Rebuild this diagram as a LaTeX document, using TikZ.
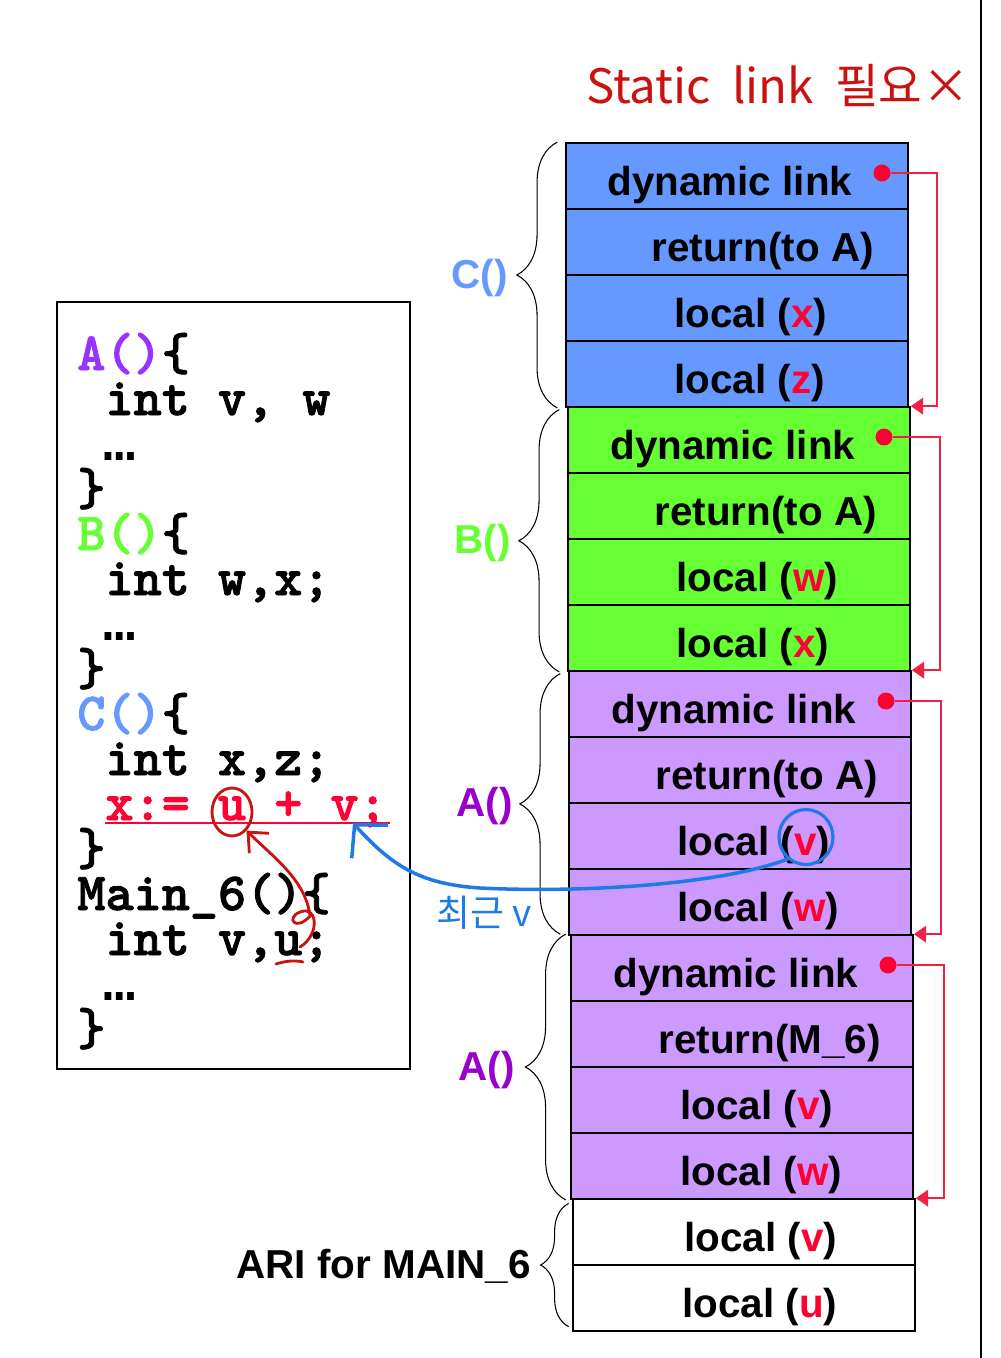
\documentclass[tikz,border=0pt]{standalone}
\usepackage{fontspec}
\setmainfont{Liberation Sans}
\newfontfamily\codefont[FakeBold=1.6]{lmmonolt10-bold.otf}
\newfontfamily\dotsfont{Liberation Mono}
\newfontfamily\krfont{Noto Sans CJK KR}
\usetikzlibrary{arrows.meta,decorations.pathreplacing,shapes.geometric}
\definecolor{cblue}{HTML}{6699FF}
\definecolor{cgreen}{HTML}{66FF33}
\definecolor{cpurple}{HTML}{CC99FF}
\definecolor{apurple}{HTML}{9900CC}
\definecolor{codeA}{HTML}{9933FF}
\definecolor{varred}{HTML}{FF0033}
\definecolor{linkred}{HTML}{EE2244}
\definecolor{penred}{HTML}{CC1111}
\definecolor{penblue}{HTML}{1E7BE6}
\newcommand{\ind}{\hphantom{x}}
\newcommand{\vr}[1]{{\color{varred}#1}}
\newcommand{\codedots}{\makebox[\fontcharwd\font`x][c]{\dotsfont\bfseries …}}

\begin{document}
\begin{tikzpicture}[x=0.02cm,y=-0.02cm,
    row/.style={draw,line width=1pt,minimum width=6.84cm,minimum height=1.32cm,inner sep=0},
    rowtext/.style={inner sep=0,anchor=west,yshift=-5pt,font=\fontsize{23}{27}\selectfont\bfseries},
    framelabel/.style={inner sep=0,anchor=east,font=\fontsize{23}{27}\selectfont\bfseries},
    codeline/.style={inner sep=0,anchor=base west,text height=19pt,text depth=5pt,font=\codefont\fontsize{30.5}{33}\selectfont},
    dot/.style={circle,fill=varred,inner sep=0,minimum size=0.34cm},
    dlink/.style={linkred,line width=0.8pt,-{Triangle[length=7pt,width=9.5pt]}},
    brace/.style={decorate,decoration={brace,amplitude=#1},line width=0.6pt},
    pen/.style={penred,line width=1.6pt,line cap=round}]
\useasboundingbox (0,0) rectangle (1000,1358);

%right edge
\draw[line width=1pt] (981,0) -- (981,1358);

%code
\draw[line width=0.8pt] (57,302) rectangle (410,1069);
\foreach \t [count=\i] in {{{\color{codeA}A()}\{},
    {\ind int v, w},
    {\ind\codedots},
    {\}},
    {{\color{cgreen}B()}\{},
    {\ind int w,x;},
    {\ind\codedots},
    {\}},
    {{\color{cblue}C()}\{},
    {\ind int x,z;},
    {\ind{\color{varred}x:= u + v;}},
    {\}},
    {Main\_6()\{},
    {\ind int v,u;},
    {\ind\codedots},
    {\}}}
  \node[codeline] (l\i) at (77,370+45*\i-45) {\t};
\draw[varred,line width=0.8pt] (105,823) -- (390,823);

%stack
\foreach \n/\k/\xl/\col/\ix/\t in {
    c1/0/566/cblue/42/dynamic link,
    c2/1/566/cblue/86/return(to A),
    c3/2/566/cblue/109/local (\vr{x}),
    c4/3/566/cblue/109/local (\vr{z}),
    b1/4/568/cgreen/43/dynamic link,
    b2/5/568/cgreen/87/return(to A),
    b3/6/568/cgreen/109/local (\vr{w}),
    b4/7/568/cgreen/109/local (\vr{x}),
    a1/8/569/cpurple/43/dynamic link,
    a2/9/569/cpurple/87/return(to A),
    a3/10/569/cpurple/109/local (\vr{v}),
    a4/11/569/cpurple/109/local (\vr{w}),
    m1/12/571/cpurple/43/dynamic link,
    m2/13/571/cpurple/88/return(M\_6),
    m3/14/571/cpurple/110/local (\vr{v}),
    m4/15/571/cpurple/110/local (\vr{w}),
    n1/16/573/white/112/local (\vr{v}),
    n2/17/573/white/110/local (\vr{u})}
{
  \node[row,fill=\col] (\n) at (\xl+171,176+66*\k) {};
  \node[rowtext] (\n-txt) at ([xshift=\ix*0.02cm]\n.west) {\t};
}

%dynamic links
\node[dot] (d1) at (882,173) {};
\node[dot] (d2) at (884,437) {};
\node[dot] (d3) at (886,701) {};
\node[dot] (d4) at (888,965) {};
\draw[dlink] (d1) -- ++(55,0) |- (b1.north east);
\draw[dlink] (d2) -- ++(56,0) |- (a1.north east);
\draw[dlink] (d3) -- ++(55,0) |- (m1.north east);
\draw[dlink] (d4) -- ++(56,0) |- (n1.north east);

%braces
\draw[brace=23pt] ([xshift=-4.5pt]c4.south west) -- ([xshift=-4.5pt]c1.north west);
\draw[brace=23pt] ([xshift=-4.5pt]b4.south west) -- ([xshift=-4.5pt,yshift=-2pt]b1.north west);
\draw[brace=23pt] ([xshift=-4.5pt,yshift=1pt]a4.south west) -- ([xshift=-4.5pt,yshift=-2pt]a1.north west);
\draw[brace=23pt] ([xshift=-2.5pt]m4.south west) -- ([xshift=-2.5pt]m1.north west);
\draw[brace=16pt] ([xshift=-2pt,yshift=3pt]n2.south west) -- ([xshift=-2pt,yshift=-3pt]n1.north west);
\node[framelabel,cblue] (lc) at (508,278) {C()};
\node[framelabel,cgreen] (lb) at (511,543) {B()};
\node[framelabel,apurple] (la1) at (513,806) {A()};
\node[framelabel,apurple] (la2) at (515,1070) {A()};
\node[framelabel] (lmain) at (531,1266) {ARI for MAIN\_6};

%notes
\node[penred,font=\krfont\fontsize{27}{31}\selectfont] (note) at (778,86) {Static\ \ link\ \ 필요×};
\node[pen,draw,ellipse,minimum width=0.8cm,minimum height=0.96cm,inner sep=0] (ucirc) at (232,812) {};
\coordinate (ustart) at (300,947);
\draw[pen] (276,964) .. controls (285,961) and (295,960) .. (303,962);
\draw[pen,-{Straight Barb[length=9pt,width=16pt]}] (ustart) .. controls (320,935) and (318,905) .. (300,912)
    .. controls (285,918) and (296,932) .. (310,916) .. controls (306,880) and (272,856) .. (ucirc.-52);
\node[draw=penblue,line width=1.8pt,ellipse,minimum width=1.08cm,minimum height=1.1cm,inner sep=0] (vcirc) at (806,837) {};
\coordinate (vtip) at (353,823);
\draw[penblue,line width=2pt,line cap=round,-{Straight Barb[length=13pt,width=28pt]}] (vcirc.230)
    .. controls (720,885) and (580,893) .. (480,888) .. controls (420,884) and (392,866) .. (vtip);
\node[penblue,font=\krfont\fontsize{21}{24}\selectfont] (recent) at (484,913) {최근 v};
\end{tikzpicture}
\end{document}
